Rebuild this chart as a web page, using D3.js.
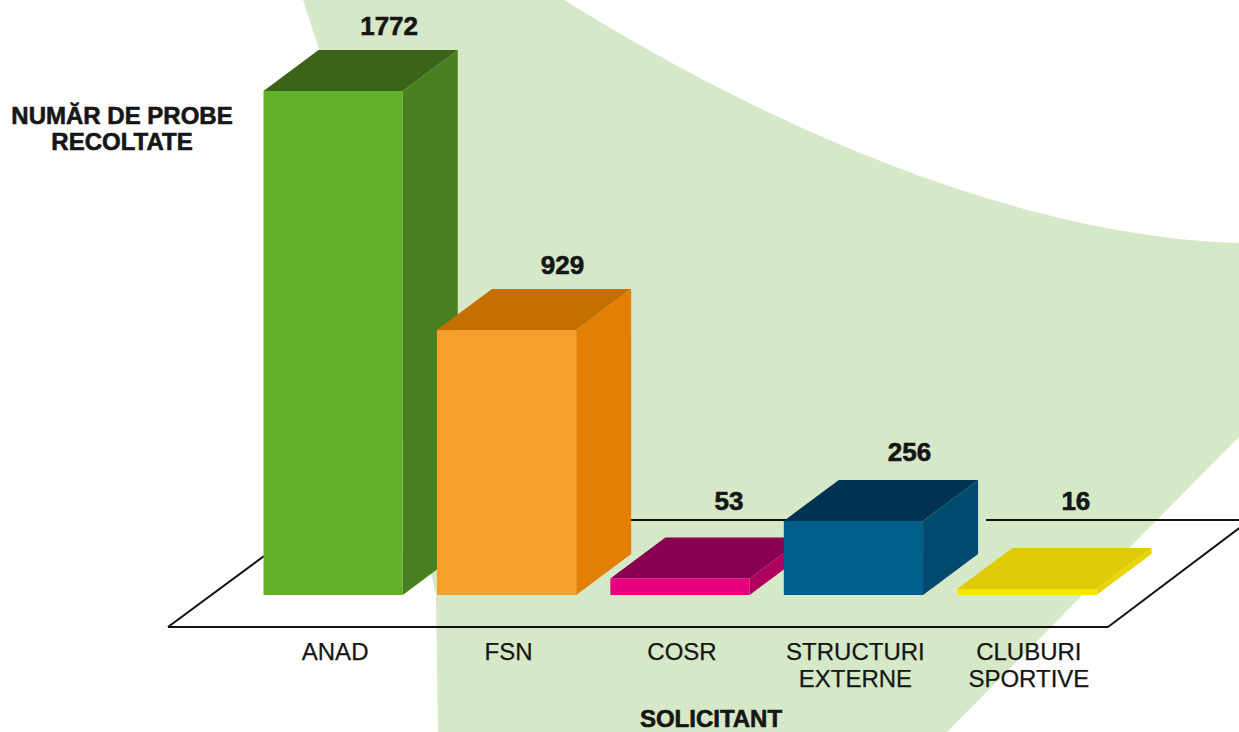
<!DOCTYPE html>
<html>
<head>
<meta charset="utf-8">
<script src="https://cdn.jsdelivr.net/npm/d3@7"></script>
<style>
html,body{margin:0;padding:0;background:#fff;overflow:hidden}
svg{display:block}
text{font-family:"Liberation Sans",Arial,sans-serif;fill:#161616;stroke:#161616;stroke-width:0.25px}
text.bold{font-weight:bold;stroke-width:0.6px}
</style>
</head>
<body>
<svg id="chart" width="1239" height="732"></svg>
<script>
const categories = ["ANAD", "FSN", "COSR", "STRUCTURI EXTERNE", "CLUBURI SPORTIVE"];
const categoryLines = [["ANAD"], ["FSN"], ["COSR"], ["STRUCTURI", "EXTERNE"], ["CLUBURI", "SPORTIVE"]];
const values = [1772, 929, 53, 256, 16];
const frontColors = ["#62b02a", "#f5a02a", "#e6007e", "#005f8a", "#f7e600"];
const sideColors = ["#48801f", "#e37f03", "#b0005f", "#004a6e", "#e8d500"];
const topColors = ["#3b6419", "#c47000", "#8a0050", "#003352", "#dfcb07"];
const yTitleLines = ["NUMĂR DE PROBE", "RECOLTATE"];
const xTitle = "SOLICITANT";

const svg = d3.select("#chart");
const x = d3.scaleBand().domain(categories).range([263.5, 1096.5]).paddingInner(0.197).paddingOuter(0);
const y = d3.scaleLinear().domain([0, 1772]).range([593.5, 91]);
const baseY = 595;
const depthX = 55, depthY = 41;
const line = d3.line();

// background shape
const bg = d3.path();
bg.moveTo(303, 0);
bg.lineTo(320, 52);
bg.lineTo(436, 595);
bg.lineTo(438, 732);
bg.lineTo(947, 732);
bg.lineTo(1239, 437);
bg.lineTo(1239, 243);
bg.bezierCurveTo(1025, 237, 778, 133, 564, 0);
bg.closePath();
svg.append("path").attr("d", bg.toString()).attr("fill", "#d5e9c8");

// floor
const floorColor = "#111";
const floorSegments = [
  [[168, 627], [1108, 627]],
  [[168, 627], [264, 556]],
  [[1108, 627], [1250, 520]],
  [[620, 520], [790, 520]],
  [[986, 520], [1239, 520]]
];
svg.append("g").selectAll("path").data(floorSegments).join("path")
  .attr("d", d => line(d)).attr("fill", "none").attr("stroke", floorColor).attr("stroke-width", 2);

// bars
const bars = svg.append("g").selectAll("g").data(categories).join("g");
const bw = x.bandwidth();
bars.append("path").attr("fill", (d, i) => topColors[i]).attr("d", (d, i) => {
  const l = x(d), t = y(values[i]);
  return line([[l, t], [l + bw, t], [l + bw + depthX, t - depthY], [l + depthX, t - depthY]]) + "Z";
});
bars.append("path").attr("fill", (d, i) => sideColors[i]).attr("d", (d, i) => {
  const r = x(d) + bw, t = y(values[i]);
  return line([[r, t], [r + depthX, t - depthY], [r + depthX, baseY - depthY], [r, baseY]]) + "Z";
});
bars.append("rect").attr("fill", (d, i) => frontColors[i])
  .attr("x", d => x(d)).attr("width", bw)
  .attr("y", (d, i) => y(values[i])).attr("height", (d, i) => baseY - y(values[i]));

// value labels
const lowLimit = 510;
const labelY = v => {
  const t = y(v) - depthY;
  return Math.min(t - (y(v) > 400 ? 19 : 15), lowLimit);
};
svg.append("g").selectAll("text").data(categories).join("text")
  .attr("class", "bold").attr("text-anchor", "middle").attr("font-size", 26)
  .attr("x", (d, i) => x(d) + bw / 2 + (labelY(values[i]) === lowLimit ? 49 : 56))
  .attr("y", (d, i) => labelY(values[i]))
  .text((d, i) => values[i]);

// category labels
const cat = svg.append("g").selectAll("text").data(categories).join("text")
  .attr("text-anchor", "middle").attr("font-size", 24)
  .attr("y", 660);
cat.selectAll("tspan").data((d, i) => categoryLines[i].map(t => ({ t, d }))).join("tspan")
  .attr("x", o => x(o.d) + bw / 2 + 2)
  .attr("dy", (o, j) => j ? 27 : 0)
  .text(o => o.t);

// axis titles
svg.append("g").selectAll("text").data(yTitleLines).join("text")
  .attr("class", "bold").attr("text-anchor", "middle").attr("font-size", 24)
  .attr("x", 122).attr("y", (d, i) => 124 + i * 26).text(d => d);
svg.append("text").attr("class", "bold").attr("text-anchor", "middle").attr("font-size", 24)
  .attr("x", 711).attr("y", 727).text(xTitle);
</script>
</body>
</html>
